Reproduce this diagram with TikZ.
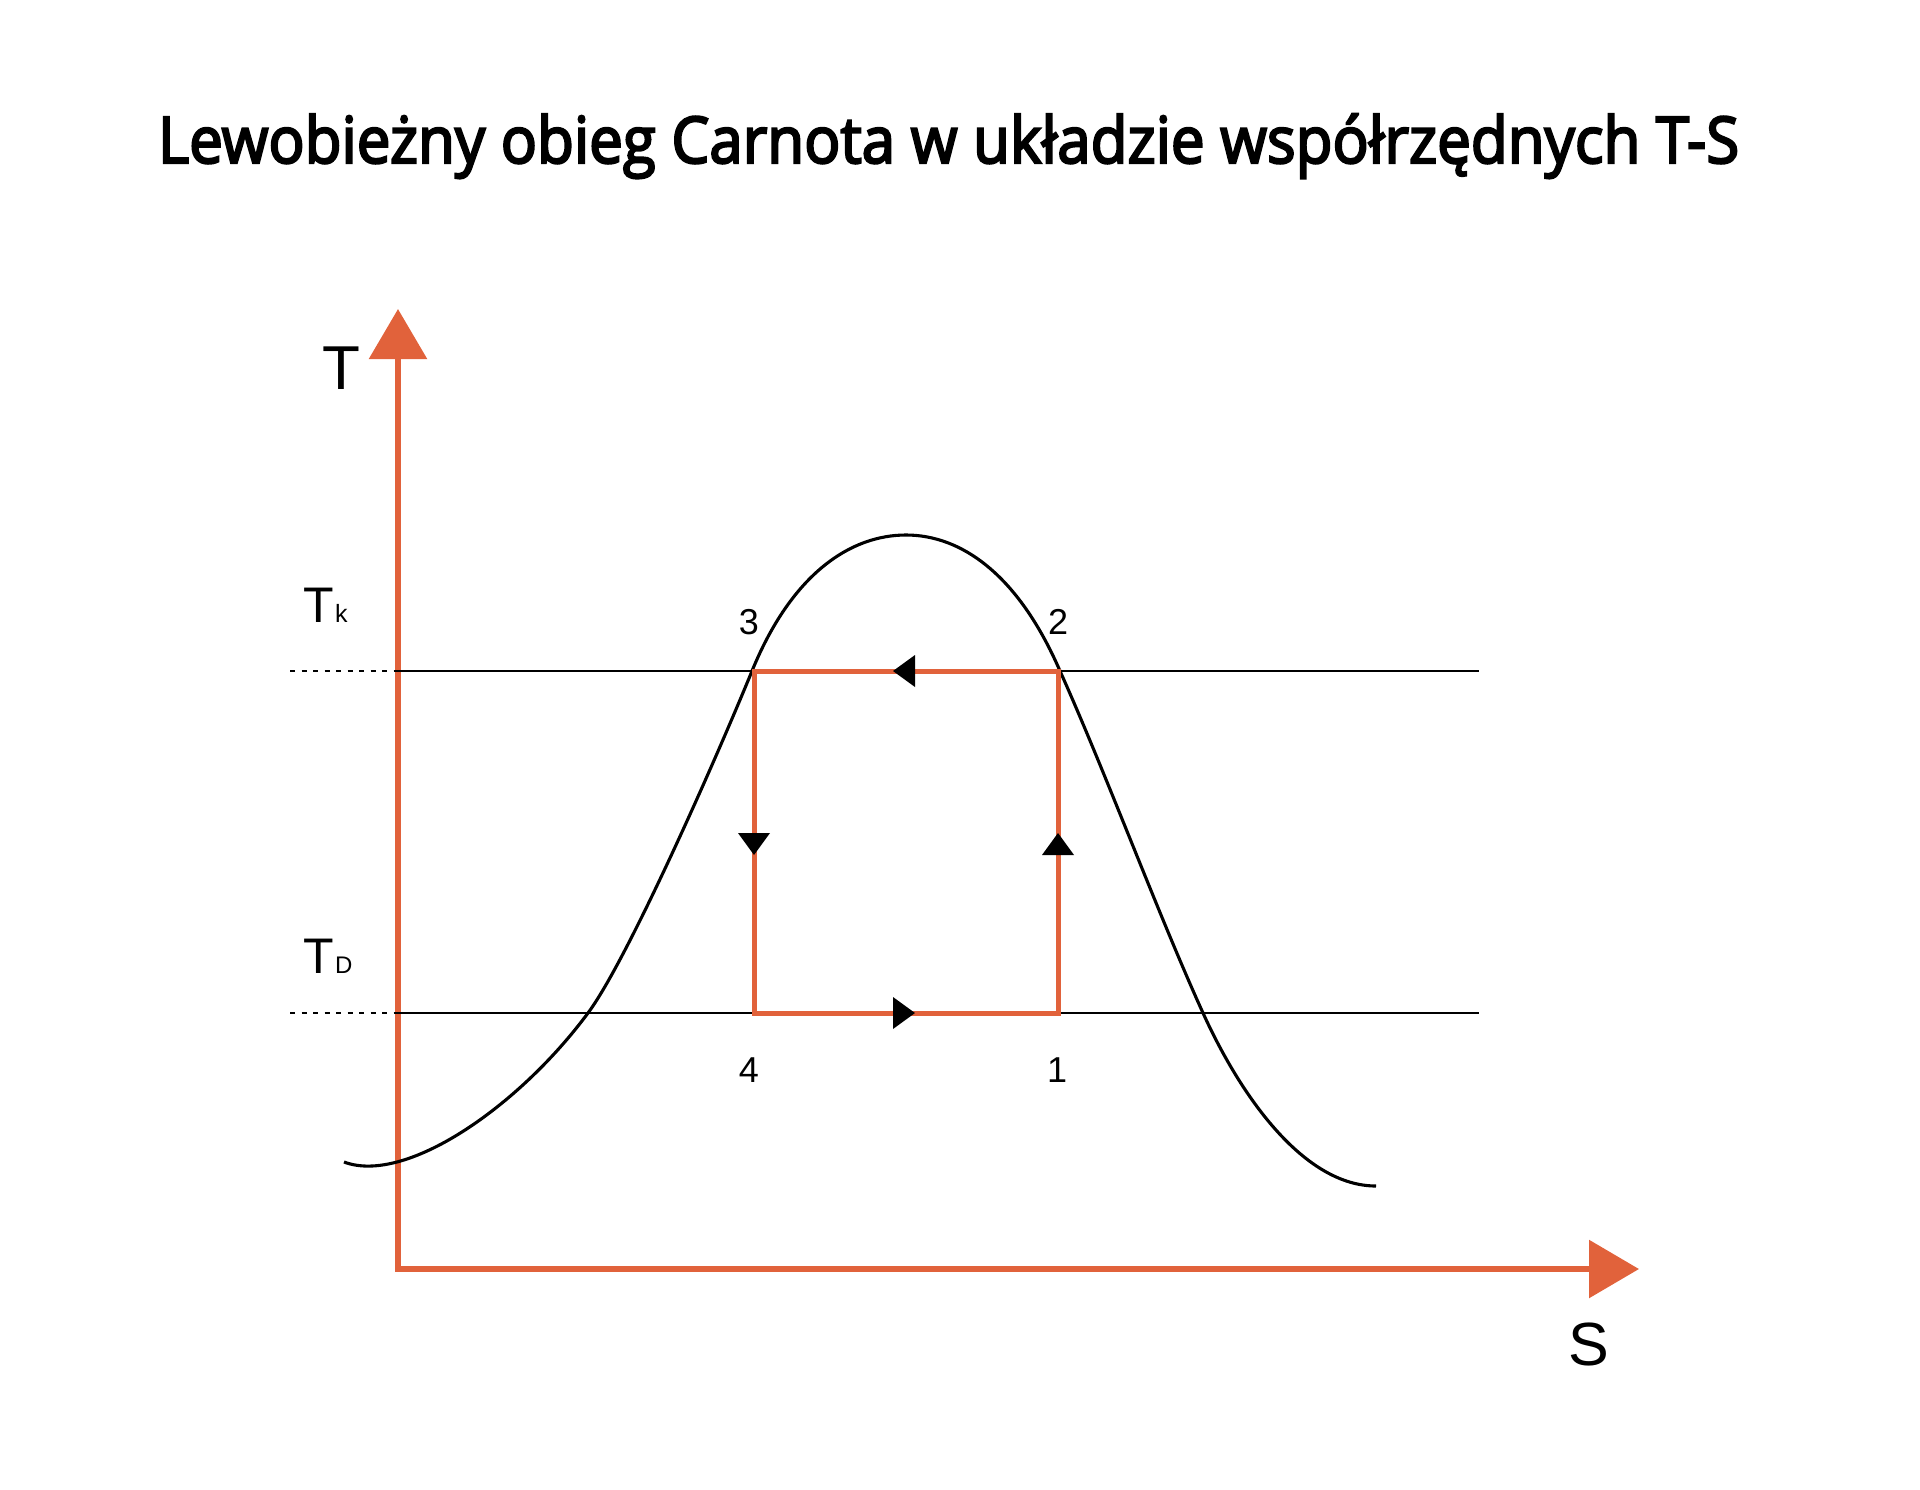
\documentclass[tikz,border=0pt]{standalone}
\usepackage{fontspec}
\usepackage{graphicx}
\setmainfont{Liberation Sans}
\newfontfamily\titlefont{Open Sans}[FakeBold=3.5]
\usetikzlibrary{arrows.meta}
\definecolor{axisorange}{RGB}{225,98,59}
\tikzset{
  axisline/.style={draw=axisorange, line width=6pt, line join=miter},
  cycleline/.style={draw=axisorange, line width=5pt, line join=miter},
  isoline/.style={draw=black, line width=2.7pt},
  dotline/.style={draw=black, line width=2.7pt, dash pattern=on 5pt off 6.5pt},
  curveline/.style={draw=black, line width=3.1pt},
  marker/.style={fill=black},
  lbl/.style={inner sep=0pt, anchor=base},
}
\begin{document}
\begin{tikzpicture}[x=1pt,y=-1pt]
\useasboundingbox (0,0) rectangle (1920,1489);
% title
\node[lbl] (title) at (948.5,163) {\resizebox{1581pt}{\height}{\titlefont\fontsize{64.4pt}{70pt}\selectfont Lewobieżny obieg Carnota w układzie współrzędnych T-S}};
% axes
\coordinate (Ttip) at (398,309);
\coordinate (O) at (398,1269);
\coordinate (Stip) at (1639,1269);
\draw[axisline, {Triangle[width=57pt,length=50pt]}-{Triangle[width=57pt,length=50pt]}] (Ttip) -- (O) -- (Stip);
\node[lbl] (Tlab) at (341,389) {\fontsize{62pt}{70pt}\selectfont T};
\node[lbl] (Slab) at (1589,1365) {\fontsize{61pt}{70pt}\selectfont S};
% isotherm lines
\coordinate (TkL) at (290,671);
\coordinate (TkA) at (398,671);
\coordinate (TkR) at (1479,671);
\coordinate (TdL) at (290,1013);
\coordinate (TdA) at (398,1013);
\coordinate (TdR) at (1479,1013);
\draw[dotline] (TkL) -- (TkA);
\draw[isoline] (TkA) -- (TkR);
\draw[dotline] (TdL) -- (TdA);
\draw[isoline] (TdA) -- (TdR);
\node[lbl, anchor=base west] (Tk) at (303,622) {\fontsize{50pt}{60pt}\selectfont T\hspace{1.5pt}\fontsize{25pt}{28pt}\selectfont k};
\node[lbl, anchor=base west] (Td) at (303,973) {\fontsize{50pt}{60pt}\selectfont T\hspace{1.5pt}\fontsize{24pt}{28pt}\selectfont D};
% saturation curve
\coordinate (c0) at (344,1162);
\coordinate (c1) at (588,1013);
\coordinate (c2) at (752,671);
\coordinate (c3) at (906,535);
\coordinate (c4) at (1060,671);
\coordinate (c5) at (1203,1013);
\coordinate (c6) at (1376,1186);
\draw[curveline] (c0)
  .. controls (405,1185) and (518,1107.5) .. (c1)
  .. controls (628,959) and (716,759) .. (c2)
  .. controls (792,573) and (851,535) .. (c3)
  .. controls (961,535) and (1018,574) .. (c4)
  .. controls (1105,771) and (1158,914) .. (c5)
  .. controls (1243,1101) and (1306,1186) .. (c6);
% cycle
\coordinate (p1) at (1058,1013);
\coordinate (p2) at (1058,671);
\coordinate (p3) at (754,671);
\coordinate (p4) at (754,1013);
\draw[cycleline] (p1) -- (p2) -- (p3) -- (p4) -- cycle;
% direction markers
\fill[marker] (893,671) -- (915,655) -- (915,687) -- cycle;
\fill[marker] (915,1013) -- (893,997) -- (893,1029) -- cycle;
\fill[marker] (754,855) -- (738,833) -- (770,833) -- cycle;
\fill[marker] (1058,833) -- (1042,855) -- (1074,855) -- cycle;
% point labels
\node[lbl] (n3) at (749,634) {\fontsize{36pt}{40pt}\selectfont 3};
\node[lbl] (n2) at (1058,634) {\fontsize{36pt}{40pt}\selectfont 2};
\node[lbl] (n4) at (749,1082) {\fontsize{36pt}{40pt}\selectfont 4};
\node[lbl] (n1) at (1057,1082) {\fontsize{36pt}{40pt}\selectfont 1};
\end{tikzpicture}
\end{document}
